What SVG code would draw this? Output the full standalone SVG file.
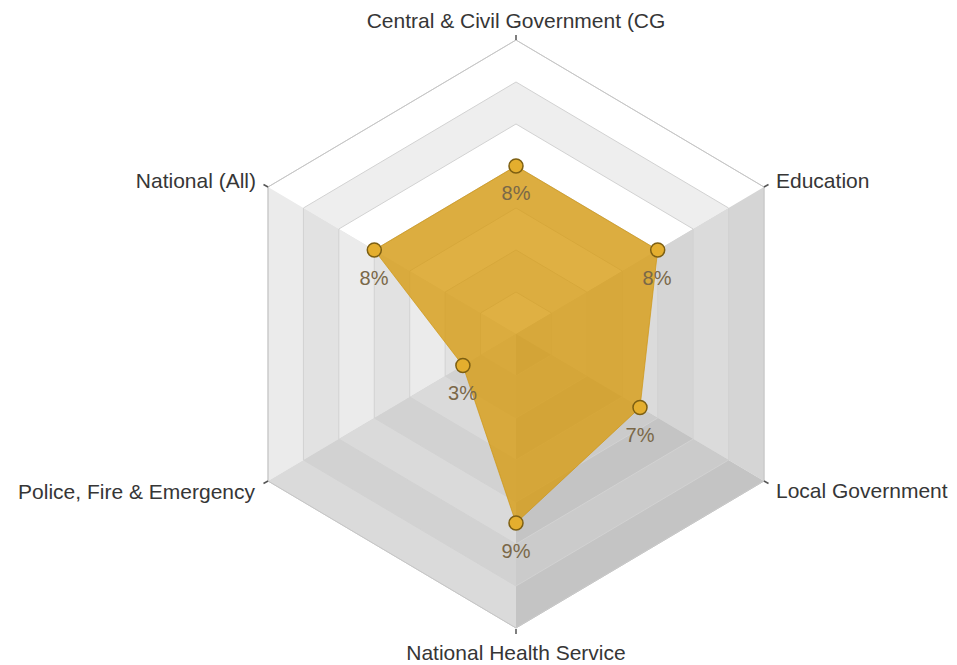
<svg xmlns="http://www.w3.org/2000/svg" xmlns:xlink="http://www.w3.org/1999/xlink" width="957" height="665" viewBox="0 0 957 665">
  <style>
    .axis { font-family: "Liberation Sans", Arial, sans-serif; font-size: 21px; fill: #363636; }
    .val { font-family: "Liberation Sans", Arial, sans-serif; font-size: 20px; fill: #7a6848; text-anchor: middle; }
    .ring { fill: none; stroke: #d2d2d2; stroke-width: 1; vector-effect: non-scaling-stroke; }
    .tick { stroke: #555555; stroke-width: 1.5; }
    .pt { fill: #e4ae2e; stroke: #7d5f12; stroke-width: 1.5; }
  </style>
  <defs>
    <g id="bandA">
      <polygon points="-248,-147 0,-294 248,-147 0,0" fill="#ffffff"/>
      <polygon points="-248,-147 0,0 -248,147" fill="#ebebeb"/>
      <polygon points="248,-147 248,147 0,0" fill="#d5d5d5"/>
      <polygon points="-248,147 0,0 0,294" fill="#dadada"/>
      <polygon points="0,294 0,0 248,147" fill="#c4c4c4"/>
      <polygon class="ring" points="-248,-147 0,-294 248,-147 248,147 0,294 -248,147"/>
    </g>
    <g id="bandB">
      <polygon points="-248,-147 0,-294 248,-147 0,0" fill="#eeeeee"/>
      <polygon points="-248,-147 0,0 -248,147" fill="#e2e2e2"/>
      <polygon points="248,-147 248,147 0,0" fill="#dbdbdb"/>
      <polygon points="-248,147 0,0 0,294" fill="#d2d2d2"/>
      <polygon points="0,294 0,0 248,147" fill="#cbcbcb"/>
      <polygon class="ring" points="-248,-147 0,-294 248,-147 248,147 0,294 -248,147"/>
    </g>
  </defs>

  <g id="grid">
    <use xlink:href="#bandA" href="#bandA" transform="translate(516,334) scale(1)"/>
    <use xlink:href="#bandB" href="#bandB" transform="translate(516,334) scale(0.857143)"/>
    <use xlink:href="#bandA" href="#bandA" transform="translate(516,334) scale(0.714286)"/>
    <use xlink:href="#bandB" href="#bandB" transform="translate(516,334) scale(0.571429)"/>
    <use xlink:href="#bandA" href="#bandA" transform="translate(516,334) scale(0.428571)"/>
    <use xlink:href="#bandB" href="#bandB" transform="translate(516,334) scale(0.285714)"/>
    <use xlink:href="#bandA" href="#bandA" transform="translate(516,334) scale(0.142857)"/>
    <polygon points="268,187 516,40 764,187 764,481 516,628 268,481" fill="none" stroke="#c6c6c6" stroke-width="1"/>
  </g>

  <g id="ticks">
    <line class="tick" x1="516" y1="40" x2="516" y2="35"/>
    <line class="tick" x1="764" y1="187" x2="768.5" y2="184.5"/>
    <line class="tick" x1="764" y1="481" x2="768.5" y2="483.5"/>
    <line class="tick" x1="516" y1="629" x2="516" y2="634"/>
    <line class="tick" x1="268" y1="481" x2="263.5" y2="483.5"/>
    <line class="tick" x1="268" y1="187" x2="263.5" y2="184.5"/>
  </g>

  <g id="series">
    <polygon points="516,166 657.7,250 640,407.5 516,523 462.9,365.5 374.3,250" fill="rgb(215,156,20)" fill-opacity="0.8" stroke="rgb(205,150,20)" stroke-opacity="0.7" stroke-width="1"/>
  </g>

  <g id="p-central"><circle class="pt" cx="516" cy="166" r="7"/><text class="val" x="516" y="200">8%</text></g>
  <g id="p-education"><circle class="pt" cx="657.7" cy="250" r="7"/><text class="val" x="657" y="284.5">8%</text></g>
  <g id="p-local"><circle class="pt" cx="640" cy="407.5" r="7"/><text class="val" x="640" y="442">7%</text></g>
  <g id="p-nhs"><circle class="pt" cx="516" cy="523" r="7"/><text class="val" x="516" y="558">9%</text></g>
  <g id="p-police"><circle class="pt" cx="462.9" cy="365.5" r="7"/><text class="val" x="462.5" y="400">3%</text></g>
  <g id="p-national"><circle class="pt" cx="374.3" cy="250" r="7"/><text class="val" x="374" y="284.5">8%</text></g>

  <g id="axis-labels">
    <text id="lbl-central" class="axis" x="516" y="28" text-anchor="middle">Central &amp; Civil Government (CG</text>
    <text id="lbl-education" class="axis" x="776" y="188">Education</text>
    <text id="lbl-local" class="axis" x="776" y="498">Local Government</text>
    <text id="lbl-nhs" class="axis" x="516" y="660" text-anchor="middle">National Health Service</text>
    <text id="lbl-police" class="axis" x="255" y="499" text-anchor="end">Police, Fire &amp; Emergency</text>
    <text id="lbl-national" class="axis" x="256" y="188" text-anchor="end">National (All)</text>
  </g>
</svg>
